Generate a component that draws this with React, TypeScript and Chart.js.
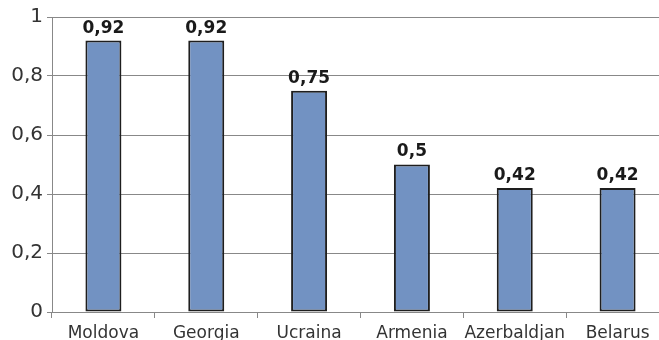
import React, { useEffect, useRef } from "react";
import { Chart, registerables } from "chart.js";

Chart.register(...registerables);

const categories = ["Moldova", "Georgia", "Ucraina", "Armenia", "Azerbaldjan", "Belarus"];
const values = [0.92, 0.92, 0.75, 0.5, 0.42, 0.42];
const yTicks = [0, 0.2, 0.4, 0.6, 0.8, 1];

const fmt = (v: number) => String(Number(v.toFixed(2))).replace(".", ",");

const dataLabels = {
  id: "dataLabels",
  afterDatasetsDraw(chart: any) {
    const ctx = chart.ctx;
    const meta = chart.getDatasetMeta(0);
    ctx.save();
    ctx.font = "bold 17px 'DejaVu Sans'";
    ctx.fillStyle = "#1a1a1a";
    ctx.textAlign = "center";
    ctx.textBaseline = "bottom";
    meta.data.forEach((el: any, i: number) => {
      ctx.fillText(fmt(values[i]), el.x, el.y - 4);
    });
    ctx.restore();
  },
};

export default function App() {
  const ref = useRef<HTMLCanvasElement>(null);
  useEffect(() => {
    if (!ref.current) return;
    const chart = new Chart(ref.current, {
      type: "bar",
      data: {
        labels: categories,
        datasets: [
          {
            data: values,
            backgroundColor: "#7292c2",
            borderColor: "#1e1e1e",
            borderWidth: 2,
            borderSkipped: false,
            barPercentage: 0.35,
            categoryPercentage: 1,
          },
        ],
      },
      options: {
        responsive: false,
        maintainAspectRatio: false,
        devicePixelRatio: 1,
        animation: false,
        layout: { padding: { left: 0, top: 17, right: 1, bottom: 0 } },
        plugins: { legend: { display: false }, tooltip: { enabled: false } },
        scales: {
          x: {
            grid: {
              display: true,
              drawOnChartArea: false,
              offset: true,
              tickLength: 6,
              color: "#888888",
            },
            border: { color: "#888888" },
            ticks: {
              color: "#333333",
              font: { family: "'DejaVu Sans'", size: 17 },
              padding: 5,
              maxRotation: 0,
              autoSkip: false,
            },
            afterFit: (s: any) => {
              s.height = 28;
            },
          },
          y: {
            min: 0,
            max: 1,
            afterBuildTicks: (s: any) => {
              s.ticks = yTicks.map((v) => ({ value: v }));
            },
            grid: { color: "#888888", tickLength: 5 },
            border: { color: "#888888" },
            ticks: {
              color: "#333333",
              font: { family: "'DejaVu Sans'", size: 20 },
              padding: 4,
              callback: (v: any) => fmt(Number(v)),
            },
            afterFit: (s: any) => {
              s.width = 52;
            },
          },
        },
      },
      plugins: [dataLabels],
    });
    return () => chart.destroy();
  }, []);
  return (
    <div
      style={{
        position: "fixed",
        left: 0,
        top: 0,
        width: 659,
        height: 340,
        overflow: "hidden",
        background: "#ffffff",
      }}
    >
      <canvas ref={ref} width={670} height={340} style={{ display: "block" }} />
    </div>
  );
}
